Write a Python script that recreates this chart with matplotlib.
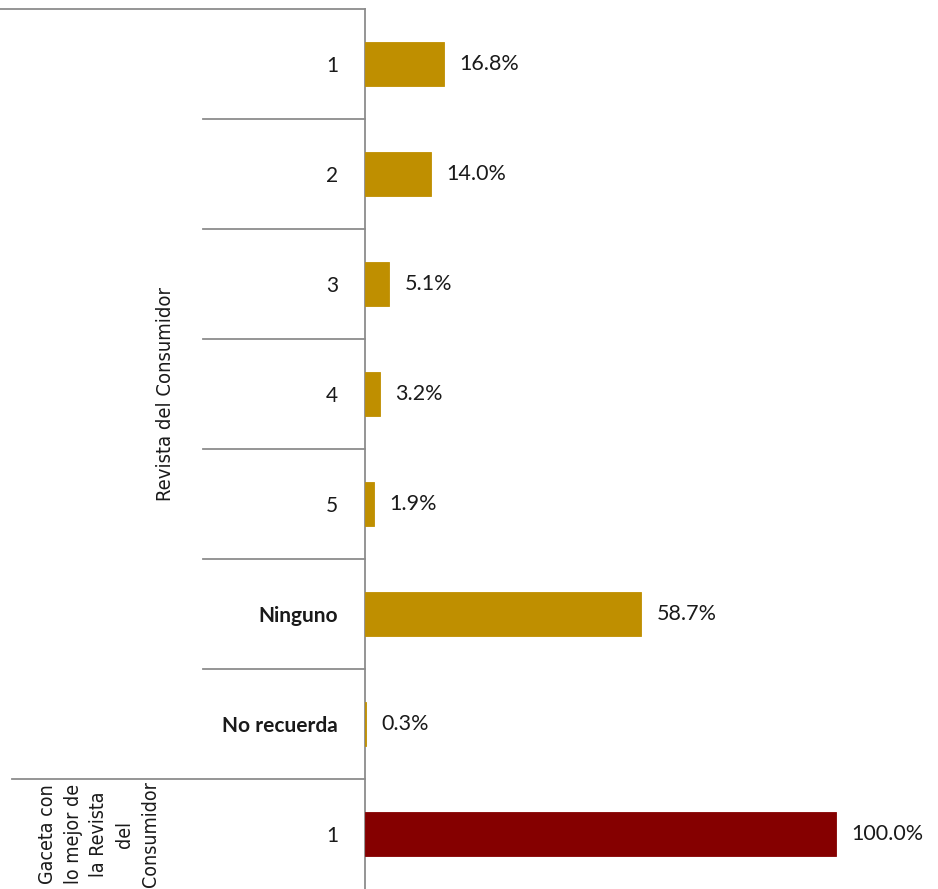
import matplotlib
matplotlib.use("Agg")
import matplotlib.pyplot as plt
from matplotlib.lines import Line2D

categories = ["1", "2", "3", "4", "5", "Ninguno", "No recuerda", "1"]
values = [16.8, 14.0, 5.1, 3.2, 1.9, 58.7, 0.3, 100.0]
groups = ["Revista del Consumidor"] * 7 + ["Gaceta con lo mejor de la Revista del Consumidor"]
group_colors = {"Revista del Consumidor": "#BF8F00",
                "Gaceta con lo mejor de la Revista del Consumidor": "#850000"}
value_labels = [f"{v:.1f}%" for v in values]

W, H = 938, 889
fig = plt.figure(figsize=(W / 100, H / 100), dpi=100)
fig.patch.set_facecolor("white")
ax_left = 365 / W
ax_top = 1 - 9 / H
ax = fig.add_axes([ax_left, 0, 1 - ax_left, ax_top])
ax.set_facecolor("none")

pos = list(range(len(categories)))
colors = [group_colors[g] for g in groups]
ax.barh(pos, values, height=0.4, color=colors, edgecolor=colors, linewidth=0.6, zorder=3)
ax.set_xlim(0, (W - 365) / 471 * 100)
ax.set_ylim(len(categories) - 0.5, -0.5)

for s in ["top", "right", "bottom"]:
    ax.spines[s].set_visible(False)
ax.spines["left"].set_color("#8c8c8c")
ax.spines["left"].set_linewidth(1.3)
ax.spines["left"].set_zorder(1)
ax.set_xticks([])
ax.set_yticks(pos)
ax.set_yticklabels(categories, fontsize=15, family="Lato", color="#1a1a1a")
for lbl, c in zip(ax.get_yticklabels(), categories):
    if not c.isdigit():
        lbl.set_fontweight("bold")
ax.tick_params(axis="y", length=0, pad=19.5)

for p, v, t in zip(pos, values, value_labels):
    ax.annotate(t, xy=(v, p), xytext=(11, 0), textcoords="offset points",
                ha="left", va="center", fontsize=15.5, family="Lato", color="#1a1a1a")

axw = W - 365
def fx(px):
    return (px - 365) / axw

# separators
for i in range(len(categories) - 1):
    if groups[i] == groups[i + 1]:
        x0 = fx(203)
    else:
        x0 = fx(12)
    ax.add_line(Line2D([x0, 0], [i + 0.5, i + 0.5], color="#8c8c8c", lw=1.3,
                       transform=ax.get_yaxis_transform(), clip_on=False))
ax.add_line(Line2D([fx(0), 0], [-0.5, -0.5], color="#8c8c8c", lw=1.3,
                   transform=ax.get_yaxis_transform(), clip_on=False))

# group labels
ax.text(fx(166), 3, "Revista del Consumidor", rotation=90, ha="center", va="center",
        fontsize=14.5, family="DejaVu Sans", fontstretch="condensed", color="#1a1a1a",
        transform=ax.get_yaxis_transform())
ax.text(fx(99), 7.0, "Gaceta con\nlo mejor de\nla Revista\ndel\nConsumidor", rotation=90,
        ha="center", va="center", multialignment="center", linespacing=1.45,
        fontsize=14, family="DejaVu Sans", fontstretch="condensed", color="#1a1a1a",
        transform=ax.get_yaxis_transform(), clip_on=False)

fig.savefig("out.png", dpi=100, facecolor="white")
